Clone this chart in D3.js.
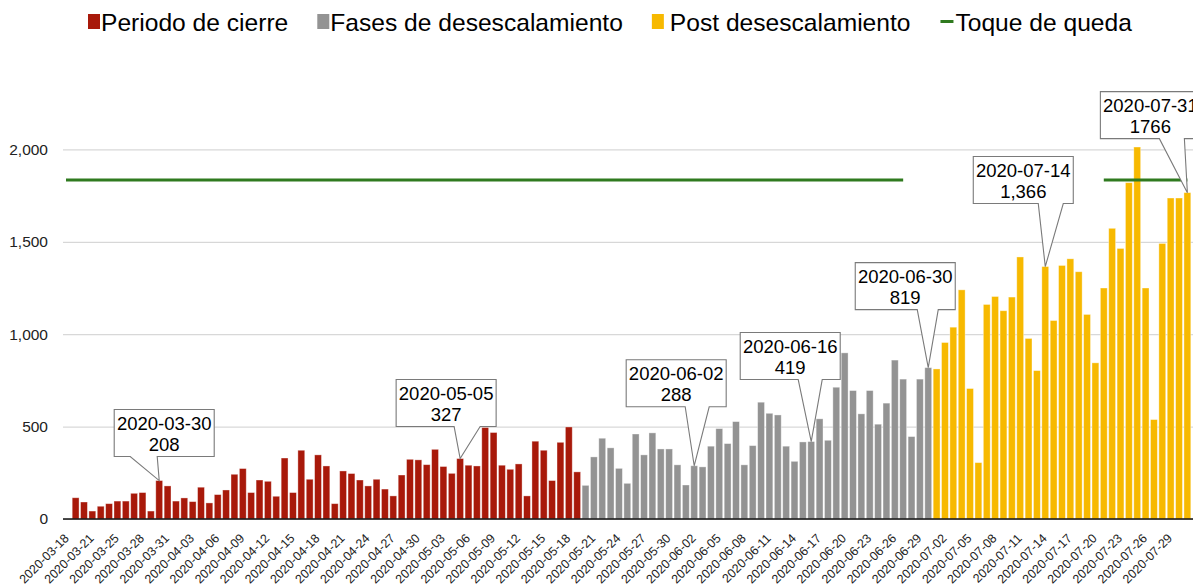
<!DOCTYPE html>
<html>
<head>
<meta charset="utf-8">
<script src="https://cdn.jsdelivr.net/npm/d3@7"></script>
<style>
  body { margin: 0; background: #fff; }
  svg { display: block; font-family: "Liberation Sans", Arial, Helvetica, sans-serif; }
</style>
</head>
<body>
<div id="chart"></div>
<script>
// daily categories, the source has no row for 2020-03-22
const firstDay = '2020-03-18';
const lastDay = '2020-07-30';
const skippedDays = ['2020-03-22'];

const cases = [
  115, 92, 43, 69, 83, 97, 97, 139, 143, 43,
  208, 179, 97, 114, 94, 172, 87, 132, 157, 242,
  273, 143, 211, 204, 123, 330, 143, 372, 215, 347,
  287, 83, 260, 246, 211, 179, 215, 162, 125, 238,
  323, 320, 294, 377, 284, 247, 327, 291, 287, 495,
  468, 291, 269, 298, 125, 421, 372, 208, 415, 498,
  255,
  182, 336, 437, 385, 274, 193, 460, 347, 466, 379,
  379, 293, 184, 288, 282, 394, 489, 408, 527, 293,
  397, 632, 572, 563, 394, 312, 417, 419, 542, 426,
  713, 899, 695, 569, 695, 513, 627, 860, 757, 446,
  757, 819,
  812, 955, 1038, 1240, 706, 305, 1161, 1204, 1127, 1201,
  1418, 977, 803, 1366, 1074, 1372, 1408, 1338, 1107, 845,
  1250, 1573, 1464, 1820, 2013, 1250, 538, 1491, 1737, 1737,
  1766
];

const phases = ['Periodo de cierre', 'Fases de desescalamiento', 'Post desescalamiento'];
const phaseStarts = ['2020-03-18', '2020-05-19', '2020-06-30'];
const phaseColors = ['#a8190a', '#939393', '#f7b900'];

const curfewLabel = 'Toque de queda';
const curfewLevel = 1835;
const curfewPeriods = [['2020-03-18', '2020-06-26'], ['2020-07-20', '2020-07-30']];
const curfewColor = '#2f7a1f';

const yTicks = [0, 500, 1000, 1500, 2000];

// callouts: bar they point at, and the two text lines
const notes = [
  { at: '2020-03-29', title: '2020-03-30', value: '208' },
  { at: '2020-05-04', title: '2020-05-05', value: '327' },
  { at: '2020-06-01', title: '2020-06-02', value: '288' },
  { at: '2020-06-15', title: '2020-06-16', value: '419' },
  { at: '2020-06-29', title: '2020-06-30', value: '819' },
  { at: '2020-07-13', title: '2020-07-14', value: '1,366' },
  { at: '2020-07-30', title: '2020-07-31', value: '1766' }
];
// box placement relative to the pointed bar top (layout only)
const noteLayout = [
  { dx: 5, dy: -24, base: [16, 43] },
  { dx: -14, dy: -32, base: [58, 84] },
  { dx: -18, dy: -59, base: [59, 83] },
  { dx: -21, dy: -62, base: [58, 82] },
  { dx: -23, dy: -58, base: [62, 83] },
  { dx: -22, dy: -63, base: [65, 90] },
  { dx: -37, dy: -54, base: [59, 84] }
];

const width = 1193, height = 584;
const fmt = d3.utcFormat('%Y-%m-%d');
const parse = d3.utcParse('%Y-%m-%d');

const days = d3.utcDay.range(parse(firstDay), d3.utcDay.offset(parse(lastDay), 1))
  .map(fmt)
  .filter(d => !skippedDays.includes(d));

const rows = days.map((d, i) => ({
  date: d,
  value: cases[i],
  phase: d3.bisectRight(phaseStarts, d) - 1
}));

const svg = d3.select('#chart').append('svg')
  .attr('width', width)
  .attr('height', height);

const x = d3.scaleBand()
  .domain(days)
  .range([63, 1200])
  .paddingInner(0.18)
  .paddingOuter(1.1);

const y = d3.scaleLinear()
  .domain([0, 2400])
  .range([519, 75.5]);

// gridlines + y labels
const yAxis = svg.append('g')
  .attr('transform', `translate(63,0)`)
  .call(d3.axisLeft(y).tickValues(yTicks).tickSize(-1200).tickPadding(15).tickFormat(d3.format(',')));
yAxis.select('.domain').remove();
yAxis.selectAll('.tick line').attr('stroke', '#cfcfcf').attr('stroke-width', 1);
yAxis.selectAll('.tick text')
  .attr('fill', '#222')
  .style('font-size', '15.5px');

// bars
svg.append('g')
  .selectAll('rect')
  .data(rows)
  .join('rect')
    .attr('x', d => x(d.date))
    .attr('y', d => y(d.value))
    .attr('width', x.bandwidth())
    .attr('height', d => y(0) - y(d.value))
    .attr('fill', d => phaseColors[d.phase])
    .attr('stroke', '#fff')
    .attr('stroke-opacity', 0.45)
    .attr('stroke-width', 0.8);

// x axis
const xAxis = svg.append('g')
  .attr('transform', `translate(0,${y(0)})`)
  .call(d3.axisBottom(x)
    .tickValues(days.filter((d, i) => i % 3 === 0))
    .tickSize(0));
xAxis.select('.domain')
  .attr('d', `M63,0H1193`)
  .attr('stroke', '#111')
  .attr('stroke-width', 1.4);
xAxis.selectAll('.tick text')
  .attr('x', 0).attr('y', 0).attr('dy', 0)
  .attr('transform', 'translate(-6,20) rotate(-45)')
  .style('text-anchor', 'end')
  .style('font-size', '12.5px')
  .attr('fill', '#222');

// curfew line
const cx = d => x(d) + x.bandwidth() / 2;
svg.append('g')
  .selectAll('line')
  .data(curfewPeriods)
  .join('line')
    .attr('x1', d => d[0] === days[0] ? x.range()[0] + 3 : cx(d[0]))
    .attr('x2', d => cx(d[1]))
    .attr('y1', y(curfewLevel))
    .attr('y2', y(curfewLevel))
    .attr('stroke', curfewColor)
    .attr('stroke-width', 3);

// callouts
const boxW = 100, boxH = 47;
svg.append('g')
  .selectAll('g')
  .data(notes)
  .join('g')
    .each(function(d, i) {
      const row = rows.find(r => r.date === d.at);
      const tipX = cx(d.at), tipY = y(row.value);
      const lay = noteLayout[i];
      const left = tipX + lay.dx - boxW / 2;
      const bottom = tipY + lay.dy;
      const top = bottom - boxH;
      const g = d3.select(this);
      const p = d3.path();
      p.moveTo(left, top);
      p.lineTo(left + boxW, top);
      p.lineTo(left + boxW, bottom);
      p.lineTo(left + lay.base[1], bottom);
      p.lineTo(tipX, tipY);
      p.lineTo(left + lay.base[0], bottom);
      p.lineTo(left, bottom);
      p.closePath();
      g.append('path')
        .attr('d', p.toString())
        .attr('fill', '#fff')
        .attr('stroke', '#7a7a7a')
        .attr('stroke-width', 1.1);
      g.append('text')
        .attr('x', left + boxW / 2)
        .attr('y', top + 20)
        .attr('text-anchor', 'middle')
        .style('font-size', '18.5px')
        .attr('fill', '#000')
        .text(d.title);
      g.append('text')
        .attr('x', left + boxW / 2)
        .attr('y', top + 41.5)
        .attr('text-anchor', 'middle')
        .style('font-size', '18.5px')
        .attr('fill', '#000')
        .text(d.value);
    });

// legend
const legendItems = phases.map((p, i) => ({ label: p, color: phaseColors[i], kind: 'box' }))
  .concat([{ label: curfewLabel, color: curfewColor, kind: 'line' }]);
const legendGap = [13, 13, 18, 16];
const legend = svg.append('g');
let lx = 88;
legendItems.forEach((item, i) => {
  const g = legend.append('g');
  if (item.kind === 'box') {
    g.append('rect').attr('x', lx).attr('y', 14).attr('width', 12).attr('height', 15).attr('fill', item.color);
  } else {
    g.append('rect').attr('x', lx + 1).attr('y', 20).attr('width', 13).attr('height', 3).attr('fill', item.color);
  }
  const t = g.append('text')
    .attr('x', lx + legendGap[i])
    .attr('y', 30.5)
    .style('font-size', '24.6px')
    .attr('fill', '#000')
    .text(item.label);
  lx += legendGap[i] + t.node().getComputedTextLength() + 29;
});
</script>
</body>
</html>
